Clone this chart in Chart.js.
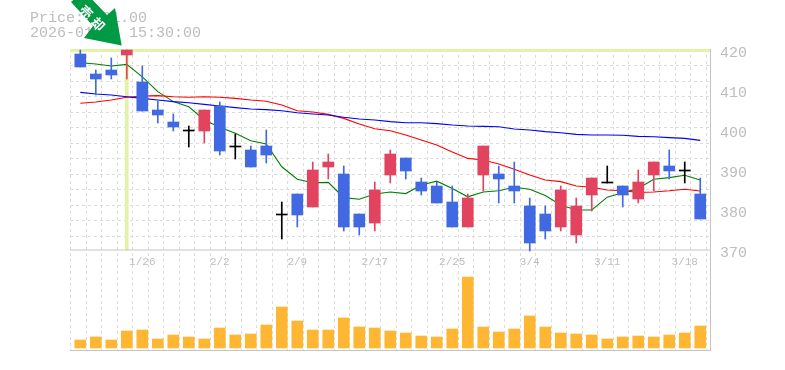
<!DOCTYPE html>
<html>
<head>
<meta charset="utf-8">
<script src="https://cdn.jsdelivr.net/npm/chart.js@4"></script>
<style>
html, body { margin: 0; padding: 0; background: #fff; overflow: hidden; }
#wrap { position: relative; width: 785px; height: 370px; }
#priceInfo { position: absolute; left: 30px; top: 11px; font: 15px/15px "Liberation Mono", monospace; color: #bdbdbd; white-space: pre; }
#signal { position: absolute; left: 0; top: 0; }
canvas { position: absolute; left: 0; top: 0; }
</style>
</head>
<body>
<div id="wrap">
  <canvas id="stockChart" width="785" height="370"></canvas>
  <div id="priceInfo">Price: 421.00
2026-01-23 15:30:00</div>
  <svg id="signal" width="140" height="50">
    <polygon points="121.7,45.5 115,8 107,15 84,-9 71,2 93,26 84,38" fill="#009944"/>
    <text x="0" y="0" transform="translate(85,13) rotate(45)" text-anchor="middle" dominant-baseline="middle" fill="#fff" font-family="Noto Sans CJK JP" font-weight="700" font-size="13">売</text>
    <text x="0" y="0" transform="translate(97,25) rotate(45)" text-anchor="middle" dominant-baseline="middle" fill="#fff" font-family="Noto Sans CJK JP" font-weight="700" font-size="13">却</text>
  </svg>
</div>
<script>
const opens = [419.5,414.5,415.5,419.25,412.5,405.5,402.5,400.5,400.25,406.5,396.5,395.5,396.5,379.5,384.5,381.25,391.25,389.5,379.5,377.25,389.25,393.5,387.5,386.5,382.5,376.25,389.25,389.5,386.5,381.5,379.5,376.25,374.25,384.25,387.5,386.5,383.25,389.25,391.5,390.5,384.5];
const closes = [416.25,413.25,414.25,420.5,405.25,404.25,401.25,400.25,405.5,395.25,396.25,391.25,394.25,379.25,379.25,390.5,392.5,376.25,376.25,385.5,394.5,390.25,385.25,382.25,376.25,383.5,396.5,388.25,385.25,372.25,375.25,385.5,381.5,388.5,387.25,384.25,387.5,392.5,390.25,390.25,378.25];
const highs = [420.5,415.5,418.5,420.5,416.5,407.75,404.5,401.5,405.5,407.5,399.5,396.5,400.5,382.5,384.5,392.5,394.5,391.5,379.5,387.5,395.5,393.5,388.5,387.5,386.5,384.5,396.5,391.5,392.5,383.5,381.5,386.5,383.5,388.5,391.5,386.5,390.5,392.5,395.5,392.5,388.5];
const lows = [416.25,409.25,413.25,413.25,405.25,402.25,400.25,396.25,397.25,394.25,393.25,391.25,392.25,373.25,376.25,381.25,388.25,375.25,374.25,375.25,387.25,388.25,384.25,382.25,376.25,376.25,385.25,382.25,382.25,370.25,373.25,375.25,372.25,380.25,387.25,381.25,382.25,385.25,388.25,387.25,378.25];
const volumes = [80,110,80,170,180,90,130,110,90,200,130,140,230,410,270,180,180,300,210,200,170,150,120,110,190,710,210,160,190,320,210,150,140,130,90,110,120,110,130,150,220];
const ma5 = [417.3,417,416.5,416.9,413.8,410.1,407.6,406.3,403,401.2,399.7,397.8,397,391.3,388.2,387.3,387.4,383.6,383.2,384.5,385,384.6,386.75,387.7,385.9,383.8,385,385.3,386.2,385.7,384.1,381.75,380.5,380.5,383.7,384.8,385.9,388.2,388.6,389.2,388];
const ma25 = [407.2,407.5,408,408.7,409,409.1,408.8,408.7,408.8,408.7,408.4,408,407.7,406.75,405.3,405,404.4,403.4,402,400.8,400.3,399.25,398,396.75,395,393.4,393,392,390.7,389.25,388,387.6,386.5,386.2,385.5,385.3,384.9,385,385.3,385.7,385.25];
const ma75 = [409.9,409.5,409.25,408.8,408.4,408,407.6,407.3,406.9,406.5,406.1,405.75,405.6,405.3,404.8,404.5,404.25,403.7,403.25,403,402.6,402.3,402.3,402.1,401.75,401.5,401.4,401.3,400.75,400.5,400.1,399.8,399.4,399.25,399.25,399.2,398.9,398.8,398.6,398.4,397.9];
const dateIndexes = [4,9,14,19,24,29,34,39];
const dateLabels = ['1/26','2/2','2/9','2/17','2/25','3/4','3/11','3/18'];
const priceTicks = [370,380,390,400,410,420];
const signalIndexes = [3];

const BLUE = '#4169e1', RED = '#e2445f', HILITE = '#e2f3a6';
const xMin = -0.665, xMax = 40.63, priceMin = 345.5, priceMax = 420.75;

function candleColor(i) {
    if (Math.abs(opens[i] - closes[i]) <= 0.25) return '#000';
    return closes[i] > opens[i] ? RED : BLUE;
}

// dashed background pattern is a square lattice, not aligned to the price ticks
const xGrid = [], yGrid = [];
for (let k = 0; k <= 41; k++) xGrid.push(k - 0.62);
for (let k = 1; k <= 12; k++) yGrid.push(420 - (15.5 * k - 2) / 4);

const xy = arr => arr.map((v, i) => ({ x: i, y: v }));
const hline = (v) => [{ x: xMin, y: v }, { x: xMax, y: v }];
const lineSet = (data, color) => ({ type: 'line', data: xy(data), borderColor: color, borderWidth: 1.1, pointRadius: 0, order: 5, yAxisID: 'y' });

new Chart(document.getElementById('stockChart').getContext('2d'), {
    data: {
        datasets: [
            { type: 'bar', data: signalIndexes.map(i => ({ x: i, y: [370.5, 420.5] })), backgroundColor: HILITE, barThickness: 3, grouped: false, order: 9 },
            { type: 'line', data: hline(420.37), borderColor: HILITE, borderWidth: 3, pointRadius: 0, order: 9 },
            { type: 'line', data: hline(370.5), borderColor: '#c4c4c4', borderWidth: 1, pointRadius: 0, order: 8 },
            lineSet(ma75, '#0000ff'),
            lineSet(ma25, '#ff0000'),
            lineSet(ma5, '#008000'),
            { type: 'bar', data: highs.map((h, i) => ({ x: i, y: [lows[i], h] })), backgroundColor: highs.map((h, i) => candleColor(i)), barThickness: 1, grouped: false, order: 2 },
            { type: 'bar', data: opens.map((o, i) => ({ x: i, y: [o, closes[i]] })), backgroundColor: opens.map((o, i) => candleColor(i)), barThickness: 11, grouped: false, order: 1 },
            { type: 'bar', data: xy(volumes), backgroundColor: '#ffb733', barThickness: 11, grouped: false, yAxisID: 'yVol', order: 3 }
        ]
    },
    options: {
        responsive: false,
        animation: false,
        layout: { padding: { left: 70, top: 49, right: 0, bottom: 20 } },
        plugins: { legend: { display: false }, tooltip: { enabled: false }, title: { display: false } },
        scales: {
            x: {
                type: 'linear', min: xMin, max: xMax, offset: false,
                afterBuildTicks: s => { s.ticks = xGrid.map(v => ({ value: v })); },
                ticks: { display: false, autoSkip: false },
                grid: { offset: false, color: '#dcdcdc', lineWidth: 1, drawTicks: false },
                border: { color: '#c4c4c4', width: 1, dash: [3, 3] }
            },
            xDates: {
                type: 'linear', axis: 'x', min: xMin, max: xMax, offset: false,
                position: { y: 370.5 },
                afterBuildTicks: s => { s.ticks = dateIndexes.map(v => ({ value: v })); },
                ticks: {
                    autoSkip: false, maxRotation: 0, padding: 5, color: '#bdbdbd',
                    font: { family: '"Liberation Mono", monospace', size: 11 },
                    callback: v => dateLabels[dateIndexes.indexOf(v)]
                },
                grid: { display: false, drawTicks: false },
                border: { display: false }
            },
            y: {
                position: 'left', min: priceMin, max: priceMax,
                afterBuildTicks: s => { s.ticks = yGrid.map(v => ({ value: v })); },
                afterFit: s => { s.width = 0; },
                ticks: { display: false, autoSkip: false },
                grid: { color: '#dcdcdc', lineWidth: 1, drawTicks: false },
                border: { display: false, dash: [3, 3] }
            },
            yPrice: {
                position: 'right', min: priceMin, max: priceMax,
                afterBuildTicks: s => { s.ticks = priceTicks.map(v => ({ value: v })); },
                afterFit: s => { s.width = 75; },
                ticks: {
                    autoSkip: false, padding: 10, color: '#bdbdbd', labelOffset: 1,
                    font: { family: '"Liberation Mono", monospace', size: 15 }
                },
                grid: { display: false, drawTicks: false },
                border: { color: '#c4c4c4', width: 1 }
            },
            yVol: { display: false, min: -20, max: 2990 }
        }
    }
});
</script>
</body>
</html>
